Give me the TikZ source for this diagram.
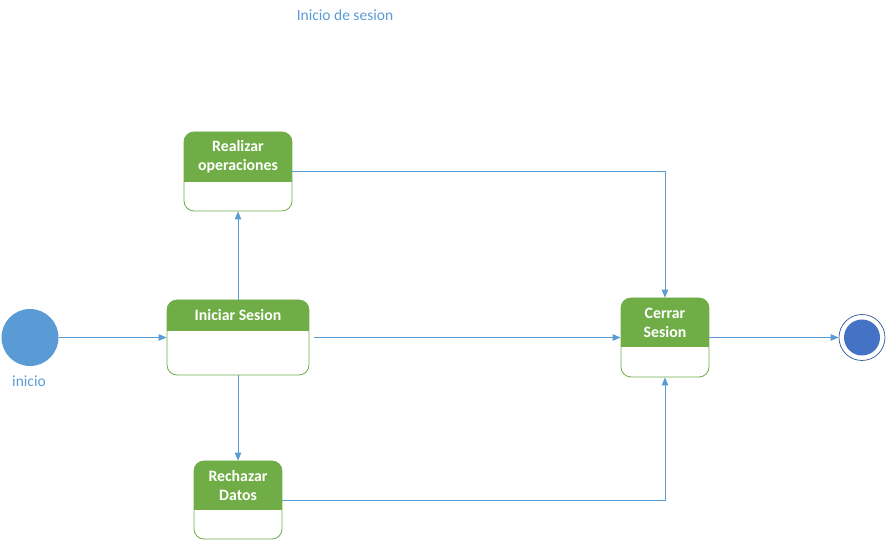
\documentclass[tikz,border=0pt]{standalone}
\usepackage{fontspec}
\setmainfont{Carlito}
\usetikzlibrary{arrows.meta}
\definecolor{hdrgreen}{HTML}{70AD47}
\definecolor{flowblue}{HTML}{5B9BD5}
\definecolor{endblue}{HTML}{4472C4}
\definecolor{ringblue}{HTML}{2F5597}
\begin{document}
\begin{tikzpicture}[x=1pt,y=1pt,
  act/.style={draw=hdrgreen, line width=0.8pt, rounded corners=10pt, fill=white,
    inner sep=0pt,
    path picture={\fill[hdrgreen, sharp corners] ([yshift=2pt]path picture bounding box.north west)
      rectangle ([yshift=-#1]path picture bounding box.north east);}},
  htext/.style={text=white, font=\bfseries\fontsize{15.8}{19}\selectfont, align=center, inner sep=0pt},
  lbl/.style={text=flowblue, font=\fontsize{15.5}{18}\selectfont, inner sep=0pt},
  flow/.style={draw=flowblue, line width=0.9pt, -{Triangle[length=8pt,width=6.5pt]}}]
\useasboundingbox (0,0) rectangle (887,541);

% title
\node[lbl] (title) at (345,526) {Inicio de sesion};

% activity boxes
\node[act=50pt, minimum width=108pt, minimum height=79pt] (realizar) at (238,369.5) {};
\node[htext] (realizarT) at (238,384) {Realizar\\operaciones};

\node[act=31pt, minimum width=142pt, minimum height=75pt] (iniciar) at (238,203.5) {};
\node[htext] (iniciarT) at (238,225.5) {Iniciar Sesion};

\node[act=49pt, minimum width=88pt, minimum height=79pt] (cerrar) at (665,203.5) {};
\node[htext] (cerrarT) at (665,218.5) {Cerrar\\Sesion};

\node[act=49pt, minimum width=88pt, minimum height=78pt] (rechazar) at (238,41) {};
\node[htext] (rechazarT) at (238,55.5) {Rechazar\\Datos};

% initial and final states
\node[circle, fill=flowblue, minimum size=57pt, inner sep=0pt] (start) at (30,203.5) {};
\node[lbl] (startT) at (29,160) {inicio};
\node[circle, draw=ringblue, line width=0.7pt, fill=white, minimum size=46pt, inner sep=0pt] (fin) at (862,203.5) {};
\node[circle, fill=endblue, minimum size=36pt, inner sep=0pt] (finIn) at (fin) {};

% transitions
\draw[flow] (start.east) -- (iniciar.west);
\draw[flow] (iniciar.north) -- (realizar.south);
\draw[flow] (iniciar.south) -- (rechazar.north);
\draw[flow] ([xshift=5pt]iniciar.east) -- (cerrar.west);
\draw[flow] ([yshift=0.5pt]realizar.east) -| (cerrar.north);
\draw[flow] (rechazar.east) -| (cerrar.south);
\draw[flow] (cerrar.east) -- (fin.west);
\end{tikzpicture}
\end{document}
